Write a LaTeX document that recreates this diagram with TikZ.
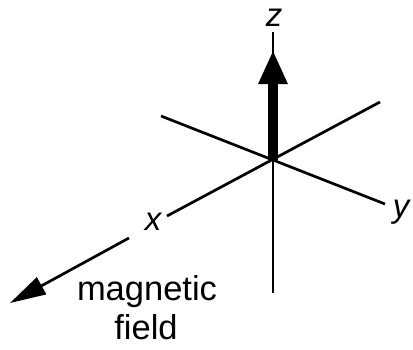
\documentclass[tikz,border=0pt]{standalone}
\usepackage{fontspec}
\setmainfont{Liberation Sans}
\usetikzlibrary{arrows.meta}

\begin{document}
\begin{tikzpicture}[x=1pt,y=-1pt,line width=2.7pt,
    axlab/.style={font=\fontsize{33}{33}\selectfont\itshape,inner sep=0pt,anchor=base},
    fieldlab/.style={font=\fontsize{34.5}{38}\selectfont,inner sep=0pt,anchor=base}]
  \useasboundingbox (0,0) rectangle (413,349);
  % axis end points
  \coordinate (O) at (273,160);
  \coordinate (ztop) at (273,32);
  \coordinate (zbot) at (273,293);
  \coordinate (zhead) at (273,50);
  \coordinate (yback) at (161,116);
  \coordinate (yend) at (385,204);
  \coordinate (xback) at (380,102);
  \coordinate (xgapa) at (167,216);
  \coordinate (xgapb) at (129,238);
  \coordinate (xtip) at (10,303);
  % axes
  \draw (ztop) -- (zbot);
  \draw (yback) -- (yend);
  \draw (xback) -- (xgapa);
  \draw[-{Triangle[length=36pt,width=19pt]}] (xgapb) -- (xtip);
  % moment along z
  \draw[line width=10pt,-{Triangle[length=34pt,width=27pt]}] (O) -- (zhead);
  % labels
  \node[axlab] (zl) at (274,26) {z};
  \node[axlab] (xl) at (153,230) {x};
  \node[axlab] (yl) at (401,217) {y};
  \node[fieldlab] (mag) at (147,300.5) {magnetic};
  \node[fieldlab] (fld) at (146,339) {field};
\end{tikzpicture}
\end{document}
